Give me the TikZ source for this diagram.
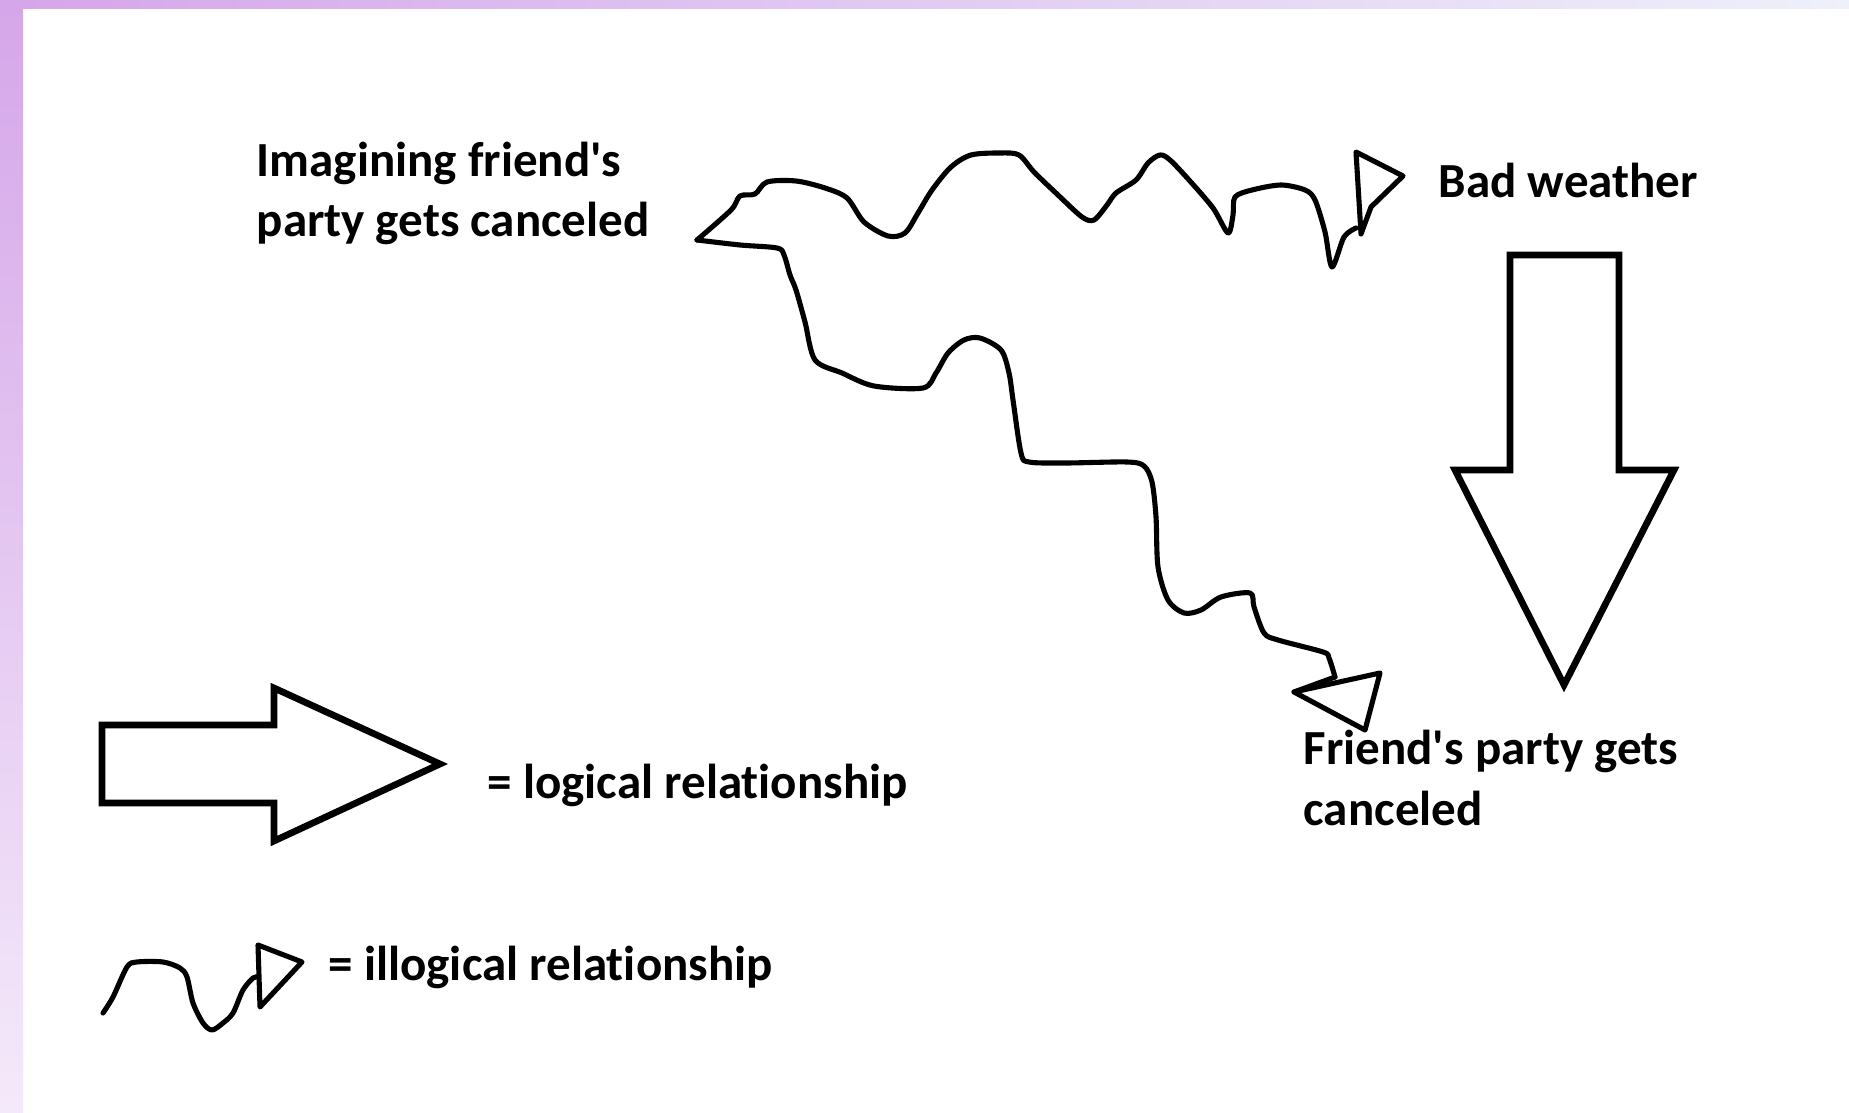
\documentclass[tikz,border=0pt]{standalone}
\usepackage{fontspec}
\newfontfamily\lblfont{Carlito}[Ligatures=CommonOff]
\definecolor{stripA}{HTML}{D5A6E9}
\definecolor{stripB}{HTML}{B4AAEB}
\definecolor{stripC}{HTML}{EEF0FB}
\definecolor{stripD}{HTML}{F4E9FA}
\begin{document}
\begin{tikzpicture}[x=0.01cm,y=-0.01cm,
  lbl/.style={font=\lblfont\bfseries\fontsize{13.94pt}{17.1pt}\selectfont, inner sep=0pt, anchor=base west, align=left},
  bigarrow/.style={draw=black, line width=1.9pt, fill=white, line join=miter},
  squig/.style={draw=black, line width=1.45pt, line join=round, line cap=round},
  tiphead/.style={draw=black, line width=1.45pt, line join=round, fill=white}]
\useasboundingbox (0,0) rectangle (1849,1113);
\fill[white] (0,0) rectangle (1849,1113);
\shade[left color=stripA, middle color=stripB, right color=stripC] (0,0) rectangle (1849,9);
\shade[top color=stripA, bottom color=stripD] (0,0) rectangle (23,1113);

% texts (base anchor of a two-line node is the baseline of its last line)
\node[lbl] (imag) at (256,237) {Imagining friend's\\party gets canceled};
\node[lbl] (bad) at (1438,198) {Bad weather};
\node[lbl] (fp) at (1303,825) {Friend's party gets\\canceled};
\node[lbl] (logic) at (487,798) {= logical relationship};
\node[lbl] (illogic) at (328,980) {= illogical relationship};

% connector coordinates
\coordinate (src) at (697,240);
\coordinate (topend) at (1356,228);
\coordinate (lowend) at (1335,677);

% big down arrow: Bad weather -> Friend's party gets canceled
\draw[bigarrow] (1510,255) -- (1619,255) -- (1619,470) -- (1674,470) -- (1564,685) -- (1455,470) -- (1510,470) -- cycle;

% top squiggle: Imagining -> Bad weather
\draw[squig] plot[smooth, tension=0.5] coordinates {(src) (731,210) (740,196) (755,194) (767,182) (796,181) (825,188) (847,198) (864,222) (888,236) (905,233) (918,213) (932,190) (951,167) (971,155) (1000,153) (1019,155) (1034,172) (1058,195) (1082,217) (1094,220) (1107,205) (1116,193) (1136,180) (1148,163) (1160,155) (1170,160) (1189,180) (1213,208) (1228,233) (1233,215) (1235,197) (1252,190) (1281,185) (1305,190) (1315,200) (1325,232) (1332,267) (1344,237) (topend)};
\draw[tiphead] (1356,152) -- (1403,176) -- (1371,207) -- (1361,234) -- cycle;

% lower squiggle: Imagining -> Friend's party gets canceled
\draw[squig] plot[smooth, tension=0.5] coordinates {(src) (740,245) (777,248) (784,255) (790,275) (796,290) (805,322) (815,360) (842,373) (874,386) (923,388) (936,373) (948,353) (964,340) (980,338) (1001,350) (1009,373) (1013,400) (1021,453) (1029,462) (1066,463) (1127,462) (1144,466) (1152,482) (1156,517) (1158,567) (1168,600) (1184,613) (1201,610) (1221,597) (1250,593) (1254,607) (1264,633) (1278,640) (1323,652) (1329,658) (lowend)};
\draw[tiphead] (1294,692) -- (1380,673) -- (1365,730) -- cycle;
\draw[squig] (lowend) -- (1294,692);

% legend: logical relationship arrow
\draw[bigarrow] (102,725) -- (274,725) -- (274,688) -- (440,764) -- (274,841) -- (274,803) -- (102,803) -- cycle;

% legend: illogical relationship squiggle
\coordinate (legstart) at (103,1013);
\coordinate (legend) at (258,977);
\draw[squig] plot[smooth, tension=0.5] coordinates {(legstart) (113,997) (127,967) (137,962) (163,962) (180,968) (187,977) (193,1003) (203,1023) (212,1030) (223,1023) (233,1013) (243,990) (253,978) (legend)};
\draw[tiphead] (258,945) -- (302,962) -- (260,1007) -- cycle;
\end{tikzpicture}
\end{document}
